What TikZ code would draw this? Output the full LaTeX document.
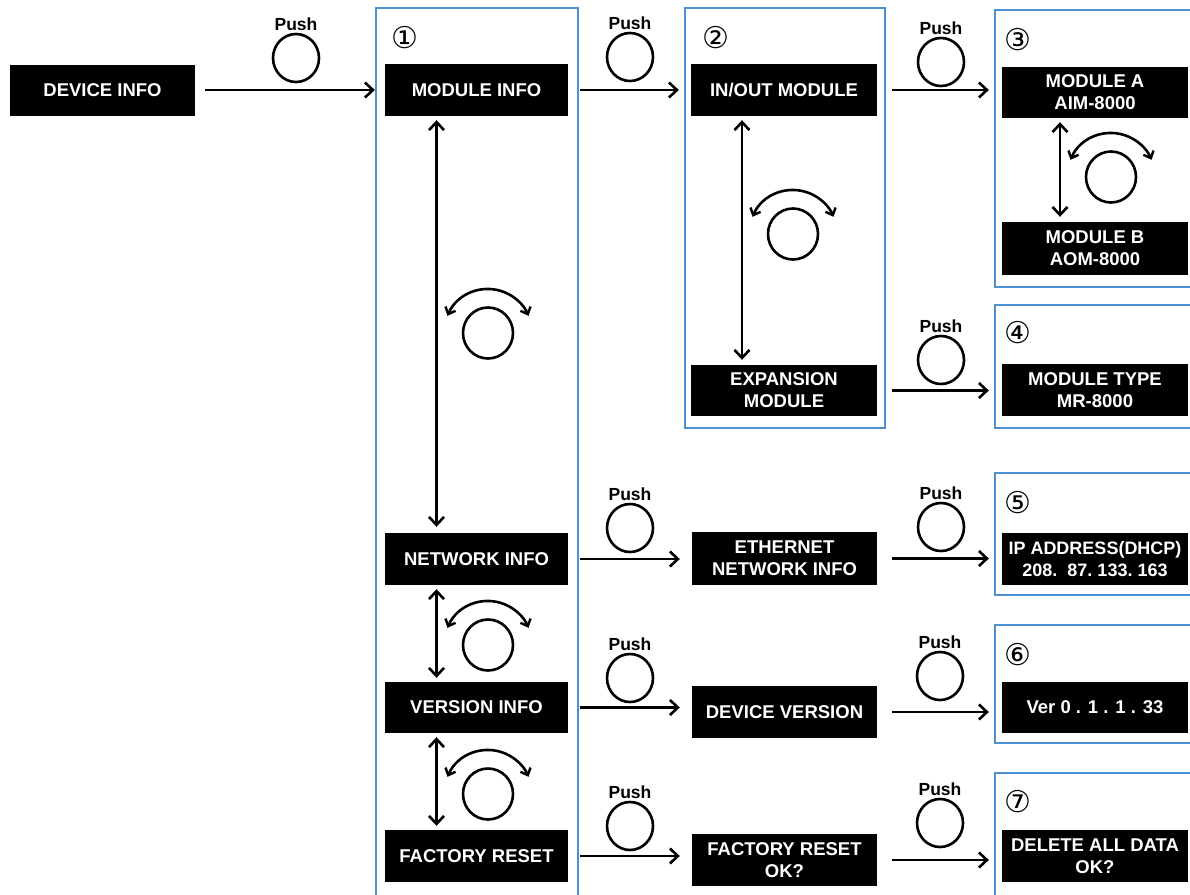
\documentclass[tikz,border=0pt]{standalone}
\usepackage{fontspec}
\setmainfont{Liberation Sans}
\newfontfamily\numfont{DejaVu Sans}
\usetikzlibrary{arrows.meta,calc,shapes.geometric}
\definecolor{bluebx}{RGB}{75,145,210}
\begin{document}
\begin{tikzpicture}[x=1pt,y=-1pt,
 blk/.style={fill=black, text=white, font=\bfseries\fontsize{18.5}{22}\selectfont, align=center, inner sep=0pt, minimum width=184pt, minimum height=52pt},
 bluebox/.style={draw=bluebx, line width=2.3pt, inner sep=0pt},
 tipb/.tip={Straight Barb[length=8pt,width=15pt,line width=2.6pt]},
 tips/.tip={Straight Barb[length=6pt,width=11pt,line width=2.4pt]},
 arr/.style={line width=2.8pt, -tipb},
 darr/.style={line width=2.8pt, tipb-tipb},
 rarr/.style={line width=2.6pt, tips-tips},
 knob/.style={draw, line width=2.6pt, ellipse, minimum width=46pt, minimum height=48pt, inner sep=0pt},
 rknob/.style={draw, line width=2.6pt, ellipse, minimum width=50pt, minimum height=51pt, inner sep=0pt},
 pushl/.style={font=\bfseries\fontsize{17.5}{17.5}\selectfont, anchor=south, inner sep=2pt},
 numl/.style={font=\numfont\fontsize{30}{30}\selectfont, inner sep=0pt}
]
\useasboundingbox (0,0) rectangle (1190,894);
\clip (0,0) rectangle (1190,894);

% blue frames
\node[bluebox, minimum width=202pt, minimum height=900pt] (B1) at (477,458) {};
\node[bluebox, minimum width=200pt, minimum height=420pt] (B2) at (785,218) {};
\node[bluebox, minimum width=200pt, minimum height=277pt] (B3) at (1095,148.5) {};
\node[bluebox, minimum width=200pt, minimum height=123pt] (B4) at (1095,366.5) {};
\node[bluebox, minimum width=200pt, minimum height=122pt] (B5) at (1095,534) {};
\node[bluebox, minimum width=200pt, minimum height=118pt] (B6) at (1095,684) {};
\node[bluebox, minimum width=200pt, minimum height=130pt] (B7) at (1095,838) {};

% circled numbers
\node[numl] (n1) at (405,38) {①};
\node[numl] (n2) at (716,38) {②};
\node[numl] (n3) at (1018,40) {③};
\node[numl] (n4) at (1018,333) {④};
\node[numl] (n5) at (1018,503) {⑤};
\node[numl] (n6) at (1018,655) {⑥};
\node[numl] (n7) at (1018,802) {⑦};

% black boxes
\node[blk, minimum width=185pt, minimum height=51pt] (dev) at (102.5,90) {DEVICE INFO};
\node[blk, minimum width=183pt] (mod) at (476.5,90) {MODULE INFO};
\node[blk, minimum width=183pt] (net) at (476.5,559) {NETWORK INFO};
\node[blk, minimum width=183pt, minimum height=51pt] (ver) at (476.5,707.5) {VERSION INFO};
\node[blk, minimum width=183pt] (fac) at (476.5,856) {FACTORY RESET};
\node[blk, minimum width=186pt] (io) at (784,90) {IN/OUT MODULE};
\node[blk, minimum width=186pt, minimum height=51pt] (exp) at (784,390.5) {EXPANSION\\MODULE};
\node[blk, minimum width=185pt, minimum height=53pt] (eth) at (784.5,558.5) {ETHERNET\\NETWORK INFO};
\node[blk, minimum width=185pt] (dv) at (784.5,712) {DEVICE VERSION};
\node[blk, minimum width=185pt] (fro) at (784.5,860) {FACTORY RESET\\OK?};
\node[blk, minimum width=186pt, minimum height=51pt] (ma) at (1095,92.5) {MODULE A\\AIM-8000};
\node[blk, minimum width=186pt, minimum height=53pt] (mb) at (1095,248.5) {MODULE B\\AOM-8000};
\node[blk, minimum width=186pt] (mt) at (1095,390) {MODULE TYPE\\MR-8000};
\node[blk, minimum width=186pt, font=\bfseries\fontsize{18}{22}\selectfont] (ip) at (1095,559) {IP ADDRESS(DHCP)\\208.\ \ 87.\ 133.\ 163};
\node[blk, minimum width=186pt, minimum height=51pt] (vr) at (1095,707.5) {Ver 0 . 1 . 1 . 33};
\node[blk, minimum width=186pt] (dl) at (1095,856) {DELETE ALL DATA\\OK?};

% push knobs
\node[knob] (p1) at (296,58) {};
\node[knob] (p2) at (630,57) {};
\node[knob] (p3) at (941,62) {};
\node[knob] (p4) at (941,360) {};
\node[knob] (p5) at (630,528) {};
\node[knob] (p6) at (941,527) {};
\node[knob] (p7) at (630,678) {};
\node[knob] (p8) at (940,676) {};
\node[knob] (p9) at (630,826) {};
\node[knob] (p10) at (940,823) {};
\foreach \p in {p1,p2,p3,p4,p5,p6,p7,p8,p9,p10}{
  \node[pushl] (\p l) at (\p.north) {Push};
}

% horizontal arrows
\draw[arr] ([xshift=10pt]dev.east) -- (B1.west |- dev.east);
\draw[arr] ([xshift=12pt]mod.east) -- ([xshift=-5pt]B2.west |- mod.east);
\draw[arr] ([xshift=15pt]io.east) -- ([xshift=-5pt]B3.west |- io.east);
\draw[arr] ([xshift=15pt]exp.east) -- ([xshift=-5pt]B4.west |- exp.east);
\draw[arr] ([xshift=12pt]net.east) -- ([xshift=-12pt]eth.west |- net.east);
\draw[arr] ([xshift=15pt]eth.east) -- ([xshift=-5pt]B5.west |- eth.east);
\draw[arr] ([xshift=12pt]ver.east) -- ([xshift=-12pt]dv.west |- ver.east);
\draw[arr] ([xshift=15pt]dv.east) -- ([xshift=-5pt]B6.west |- dv.east);
\draw[arr] ([xshift=12pt]fac.east) -- ([xshift=-12pt]fro.west |- fac.east);
\draw[arr] ([xshift=15pt]fro.east) -- ([xshift=-5pt]B7.west |- fro.east);

% vertical double arrows
\draw[darr] ($(mod.south)+(-40,4)$) -- ($(net.north)+(-40,-6)$);
\draw[darr] ($(net.south)+(-40,4)$) -- ($(ver.north)+(-40,-4)$);
\draw[darr] ($(ver.south)+(-40,4)$) -- ($(fac.north)+(-40,-4)$);
\draw[darr] ($(io.south)+(-42,4)$) -- ($(exp.north)+(-42,-5)$);
\draw[darr] ($(ma.south)+(-35,4)$) -- ($(mb.north)+(-35,-5)$);

% rotary knobs
\foreach \n/\x/\y in {r1/488/333, r2/793/234, r3/1111/177, r4/488/645, r5/488/794}{
  \node[rknob] (\n) at (\x,\y) {};
  \draw[rarr] ([shift={(157:44pt)}]\n.center) arc[start angle=157, end angle=23, radius=44pt];
}
\end{tikzpicture}
\end{document}
